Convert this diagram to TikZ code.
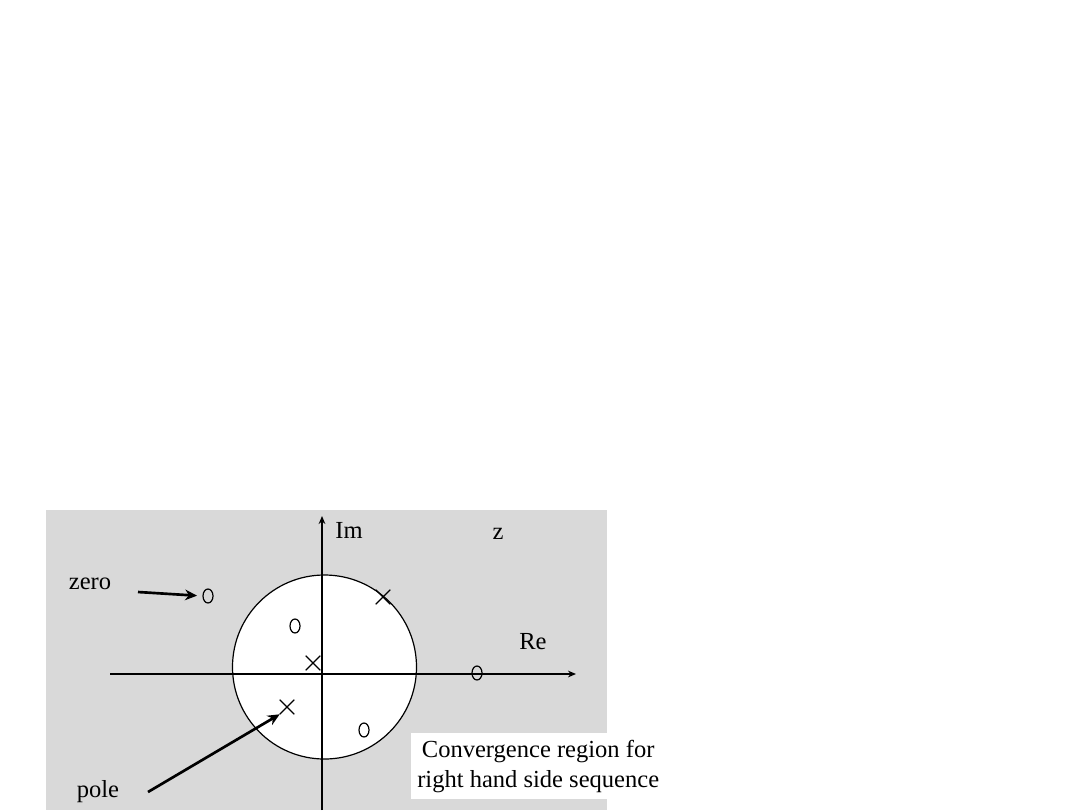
\documentclass[tikz,border=0pt]{standalone}
\usepackage{fontspec}
\setmainfont{Liberation Serif}
\usetikzlibrary{arrows.meta}
\tikzset{
  lbl/.style={font=\fontsize{18.4}{22.5}\selectfont, inner sep=0pt},
  axis/.style={line width=2pt, -{Stealth[length=6pt,width=5pt]}},
  pointer/.style={line width=2pt, -{Stealth[length=9pt,width=8pt]}},
  zeromark/.style={draw, ellipse, line width=0.9pt, minimum width=7.5pt, minimum height=10.5pt, inner sep=0pt},
  polemark/.style={cross out, draw, line width=0.9pt, minimum size=10pt, inner sep=0pt},
}
\usetikzlibrary{shapes.geometric,shapes.misc}
\begin{document}
\begin{tikzpicture}[x=0.75pt,y=-0.75pt]
\useasboundingbox (0,0) rectangle (1080,810);
\fill[white] (0,0) rectangle (1080,810);
% gray plane
\fill[gray!30] (46,510) rectangle (607,810);
% region of convergence circle (interior white)
\draw[fill=white, line width=0.9pt] (324.5,667) circle (92);
% axes
\coordinate (xs) at (110,674);
\coordinate (xe) at (576,674);
\coordinate (ys) at (322,810);
\coordinate (ye) at (322,516);
\draw[axis] (xs) -- (xe);
\draw[axis] (ys) -- (ye);
% zeros
\node[zeromark] (z1) at (208,596) {};
\node[zeromark] (z2) at (295,626) {};
\node[zeromark] (z3) at (477,673) {};
\node[zeromark] (z4) at (364,730) {};
% poles
\node[polemark] (p1) at (383,597) {};
\node[polemark] (p2) at (313,663) {};
\node[polemark] (p3) at (287,707) {};
% labels
\node[lbl] (im) at (349,530) {Im};
\node[lbl] (zz) at (498,534) {z};
\node[lbl] (re) at (533,642) {Re};
\node[lbl] (zero) at (90,584) {zero};
\node[lbl] (pole) at (98,792) {pole};
% pointers
\coordinate (zs) at (138,592);
\draw[pointer, shorten >=4pt] (zs) -- (z1.west);
\coordinate (ps) at (148,792);
\draw[pointer] (ps) -- (p3.south west);
% text box
\node[lbl, fill=white, anchor=north west, align=center, inner xsep=4.5pt, inner ysep=5pt] (roc) at (411,733)
  {Convergence region for\\right hand side sequence};
\end{tikzpicture}
\end{document}
